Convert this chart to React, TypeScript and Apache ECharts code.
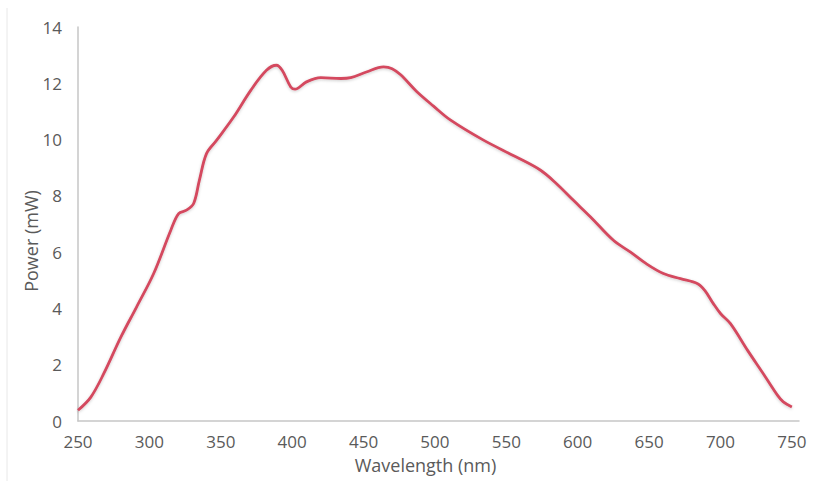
import React, { useEffect, useRef } from "react";
import * as echarts from "echarts";

const wavelength = [250, 259, 268, 280, 291, 303, 315, 320.5, 326, 331, 335, 340, 347, 359, 371, 382, 389, 393, 399, 402, 410, 420, 434, 441, 452, 464, 470, 476, 487, 499, 511, 534, 557, 574, 585, 597, 609, 625, 637, 648, 660, 672, 684, 689, 695, 700, 707, 719, 730, 740, 744, 750];
const power = [0.38, 0.85, 1.68, 2.98, 4.05, 5.24, 6.78, 7.37, 7.49, 7.73, 8.55, 9.5, 9.97, 10.8, 11.75, 12.46, 12.64, 12.46, 11.87, 11.79, 12.05, 12.2, 12.17, 12.2, 12.4, 12.58, 12.52, 12.3, 11.72, 11.19, 10.69, 9.98, 9.38, 8.91, 8.44, 7.84, 7.25, 6.42, 6.0, 5.59, 5.24, 5.06, 4.88, 4.64, 4.17, 3.82, 3.46, 2.51, 1.68, 0.91, 0.68, 0.5];
const xTicks = [250, 300, 350, 400, 450, 500, 550, 600, 650, 700, 750];
const yTicks = [0, 2, 4, 6, 8, 10, 12, 14];

export default function App() {
  const ref = useRef<HTMLDivElement>(null);
  useEffect(() => {
    if (!ref.current) return;
    const chart = echarts.init(ref.current, undefined, { renderer: "svg" });
    const font = "'Open Sans', Lato, sans-serif";
    chart.setOption({
      animation: false,
      backgroundColor: "#ffffff",
      grid: { left: 78, right: 17, top: 27, bottom: 60 },
      graphic: [
        {
          type: "line",
          shape: { x1: 7, y1: 8, x2: 7, y2: 481 },
          style: { stroke: "#e8e8e8", lineWidth: 1 },
        },
      ],
      xAxis: {
        type: "value",
        min: 250,
        max: 755,
        name: "Wavelength (nm)",
        nameLocation: "middle",
        nameGap: 35,
        nameTextStyle: {
          fontFamily: font,
          fontSize: 18,
          color: "#5a5a5a",
          padding: [0, 26, 0, 0],
        },
        axisLine: { show: true, lineStyle: { color: "#c6c6c6", width: 1.5 } },
        axisTick: { show: false },
        splitLine: { show: false },
        axisLabel: {
          fontFamily: font,
          fontSize: 17,
          color: "#5a5a5a",
          margin: 12,
          customValues: xTicks,
          formatter: (v: number) => String(v),
        },
      },
      yAxis: {
        type: "value",
        min: 0,
        max: 14,
        interval: 2,
        name: "Power (mW)",
        nameLocation: "middle",
        nameGap: 38,
        nameMoveOverlap: false,
        nameTextStyle: {
          fontFamily: font,
          fontSize: 18,
          color: "#5a5a5a",
          padding: [0, 34, 0, 0],
        },
        axisLine: { show: true, lineStyle: { color: "#c6c6c6", width: 1.5 } },
        axisTick: { show: false },
        splitLine: { show: false },
        axisLabel: {
          fontFamily: font,
          fontSize: 17,
          color: "#5a5a5a",
          margin: 16,
          formatter: (v: number) => (yTicks.includes(v) ? String(v) : ""),
        },
      },
      series: [
        {
          type: "line",
          data: wavelength.map((w, i) => [w, power[i]]),
          smooth: 0.35,
          showSymbol: false,
          lineStyle: {
            color: "#d4495f",
            width: 2.8,
            shadowColor: "rgba(0,0,0,0.2)",
            shadowBlur: 3,
            shadowOffsetY: 1,
          },
        },
      ],
    });
    return () => chart.dispose();
  }, []);
  return (
    <div
      ref={ref}
      style={{ position: "absolute", left: 0, top: 0, width: 816, height: 481 }}
    />
  );
}
